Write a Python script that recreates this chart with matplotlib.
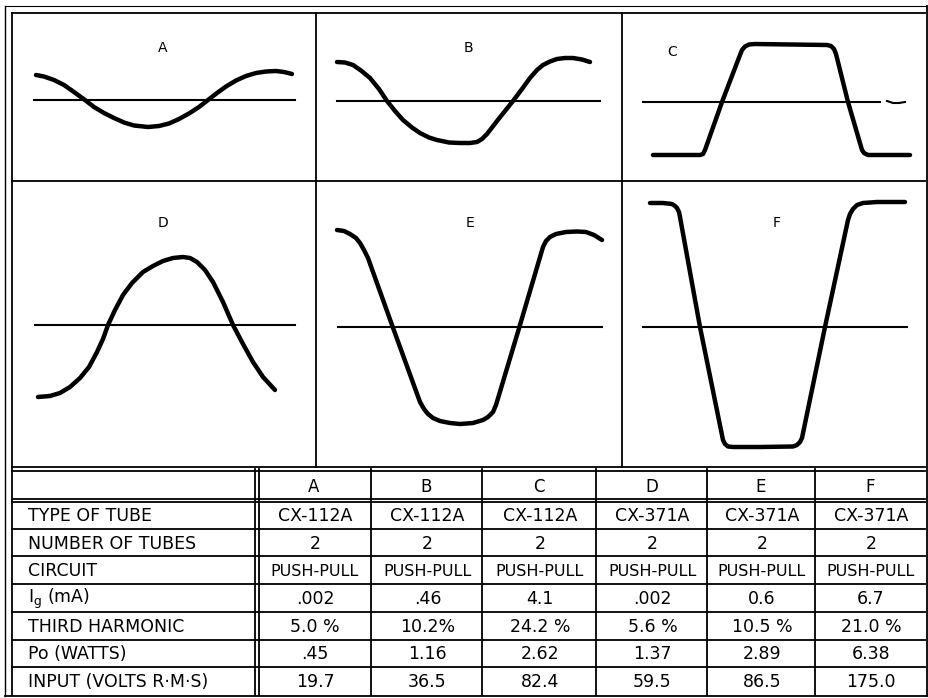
import numpy as np
import matplotlib
matplotlib.use("Agg")
import matplotlib.pyplot as plt

plt.rcParams['font.family'] = ['DejaVu Sans']
plt.rcParams['mathtext.default'] = 'regular'

# waveforms: t = distance along the zero line, v = height above it
panel_names = ["A", "B", "C", "D", "E", "F"]

wave_A_t = [2, 10, 20, 30, 40, 51, 60, 70, 80, 90, 100, 114, 125, 135, 145,
            155, 165, 174, 183, 192, 202, 212, 222, 232, 242, 250, 258]
wave_A_v = [25, 23.5, 20, 15, 8, 0, -7, -13, -18, -22.5, -25.5, -27, -26, -23.5, -19,
            -13.5, -7, 0, 7, 13.5, 19.5, 24, 27, 28.5, 29, 28, 26]

wave_B_t = [0, 8, 16, 24, 33, 42, 50, 58, 66, 75, 83, 92, 100, 112, 123, 133,
            140, 145, 150, 160, 168, 176, 185, 193, 200, 206, 213, 220, 228, 236, 245, 253]
wave_B_v = [39, 38.5, 36, 30.5, 23, 12, 0, -10, -19, -26.5, -32, -36.5, -39, -41.5, -42, -42,
            -41, -38, -33, -20, -10, 0, 12, 23, 31, 36, 39.5, 42, 43, 43, 41.5, 39]

wave_C_t = [10, 57, 60, 62, 79, 97, 99, 102, 106, 112, 184, 188, 191, 193, 205,
            219, 221, 225, 267]
wave_C_v = [-53, -53, -52, -48, 0, 47, 52, 55.5, 57.5, 58, 57, 56, 53, 48, 0,
            -48, -51, -53, -53]

wave_D_t = [3, 15, 25, 35, 45, 54, 62, 68, 73, 80, 88, 97, 108, 118, 128, 138,
            148, 155, 162, 170, 178, 188, 198, 208, 218, 228, 240]
wave_D_v = [-72, -71, -68, -62, -53, -42, -27, -14, 0, 15, 30, 42, 53, 59, 64, 67,
            68, 67, 63, 55, 43, 23, 0, -19, -37, -52, -65]

wave_E_t = [-1, 6, 12, 18, 22, 26, 30, 54, 82, 86, 90, 95, 102, 112, 122, 135,
            145, 150, 155, 158, 182, 205, 208, 212, 218, 228, 239, 248, 256, 264]
wave_E_v = [97, 96, 93, 89, 84, 77, 69, 2, -75, -82, -87, -91, -94, -96, -97, -96,
            -93, -90, -85, -78, 2, 80, 86, 90, 93, 95, 95.5, 95, 92, 87]

wave_F_t = [7, 20, 29, 32, 34, 36, 37, 57, 80, 82, 85, 90, 117, 150, 154, 157,
            159, 182, 205, 207, 210, 214, 220, 234, 262]
wave_F_v = [124, 124, 123, 121, 119, 115, 110, 0, -113, -117, -119.5, -120, -120, -119.5, -118, -115,
            -111, 0, 107, 113, 118, 122, 124, 125, 125]

waves = [(wave_A_t, wave_A_v), (wave_B_t, wave_B_v), (wave_C_t, wave_C_v),
         (wave_D_t, wave_D_v), (wave_E_t, wave_E_v), (wave_F_t, wave_F_v)]

# table contents
row_labels = ["TYPE OF TUBE", "NUMBER OF TUBES", "CIRCUIT", "I$_g$ (mA)",
              "THIRD HARMONIC", "Po (WATTS)", "INPUT (VOLTS R·M·S)"]
tube_type = ["CX-112A", "CX-112A", "CX-112A", "CX-371A", "CX-371A", "CX-371A"]
n_tubes = ["2", "2", "2", "2", "2", "2"]
circuit = ["PUSH-PULL"] * 6
ig_ma = [".002", ".46", "4.1", ".002", "0.6", "6.7"]
third_harm = ["5.0 %", "10.2%", "24.2 %", "5.6 %", "10.5 %", "21.0 %"]
po_watts = [".45", "1.16", "2.62", "1.37", "2.89", "6.38"]
input_rms = ["19.7", "36.5", "82.4", "59.5", "86.5", "175.0"]
table_rows = [tube_type, n_tubes, circuit, ig_ma, third_harm, po_watts, input_rms]

# layout in pixels
W, H = 929, 698
col_edges = [12, 316, 622, 925]
row_edges = [13, 181, 467]
# zero line of each panel: start x, y, length
zero_lines = [(34, 100, 261), (337, 101, 263), (643, 102, 237),
              (35, 325, 260), (338, 327, 264), (643, 327, 264)]
label_pos = [(129, 52), (131, 53), (29, 50), (128, 102), (132, 104), (134, 104)]

tab_cols = [12, 257, 371, 482, 596, 707, 815, 925]
tab_top, head_bot, tab_bot = 469, 501, 695

fig = plt.figure(figsize=(W / 100, H / 100), dpi=100)
frame = fig.add_axes([0, 0, 1, 1])
frame.set_xlim(0, W)
frame.set_ylim(H, 0)
frame.axis("off")

lw = 1.3
# outer border (double on left / top)
frame.plot([5, 5], [6, 696], color="black", lw=1.0)
frame.plot([5, 927], [6, 6], color="black", lw=0.8)
frame.plot([5, 927], [696, 696], color="black", lw=lw)
frame.plot([927, 927], [6, 696], color="black", lw=lw)
frame.plot([12, 12], [13, 695], color="black", lw=lw)
frame.plot([12, 925], [13, 13], color="black", lw=lw)

# panel grid
for x in col_edges[1:-1]:
    frame.plot([x, x], [row_edges[0], row_edges[-1]], color="black", lw=lw)
frame.plot([12, 925], [row_edges[1], row_edges[1]], color="black", lw=lw)
frame.plot([12, 925], [row_edges[2], row_edges[2]], color="black", lw=lw)
frame.plot([12, 925], [tab_top + 2, tab_top + 2], color="black", lw=lw)

for i, name in enumerate(panel_names):
    c, r = i % 3, i // 3
    left, right = col_edges[c], col_edges[c + 1]
    top, bot = row_edges[r], row_edges[r + 1]
    x0, y0, length = zero_lines[i]
    ax = fig.add_axes([left / W, 1 - bot / H, (right - left) / W, (bot - top) / H])
    ax.set_xlim(left - x0, right - x0)
    ax.set_ylim(-(bot - y0), y0 - top)
    ax.axis("off")
    ax.plot([0, length], [0, 0], color="black", lw=1.5)
    if name == "C":
        ax.plot([244, 250, 256, 262], [1, -1, -1, 0], color="black", lw=1.5)
    t, v = waves[i]
    ax.plot(t, v, color="black", lw=3.2, solid_capstyle="round",
            solid_joinstyle="round")
    ax.text(label_pos[i][0], label_pos[i][1], name, fontsize=10,
            ha="center", va="center")

# table
n_rows = len(row_labels)
row_h = (tab_bot - head_bot) / n_rows
frame.plot([12, 925], [head_bot - 2, head_bot - 2], color="black", lw=lw)
frame.plot([12, 925], [head_bot + 1, head_bot + 1], color="black", lw=lw)
for k in range(1, n_rows):
    y = head_bot + k * row_h
    frame.plot([12, 925], [y, y], color="black", lw=lw)
frame.plot([tab_cols[1] - 2, tab_cols[1] - 2], [tab_top, tab_bot], color="black", lw=lw)
frame.plot([tab_cols[1] + 2, tab_cols[1] + 2], [tab_top, tab_bot], color="black", lw=lw)
for x in tab_cols[2:-1]:
    frame.plot([x, x], [tab_top, tab_bot], color="black", lw=lw)

for j, name in enumerate(panel_names):
    xc = (tab_cols[j + 1] + tab_cols[j + 2]) / 2
    frame.text(xc, (tab_top + head_bot) / 2 + 2, name, fontsize=12,
               ha="center", va="center")

for k, label in enumerate(row_labels):
    yc = head_bot + (k + 0.5) * row_h + 1
    frame.text(28, yc, label, fontsize=12.5, ha="left", va="center")
    for j, val in enumerate(table_rows[k]):
        xc = (tab_cols[j + 1] + tab_cols[j + 2]) / 2
        fs = 11.5 if val == "PUSH-PULL" else 12.5
        frame.text(xc + 1, yc, val, fontsize=fs, ha="center", va="center")

fig.savefig("out.png", dpi=100)
